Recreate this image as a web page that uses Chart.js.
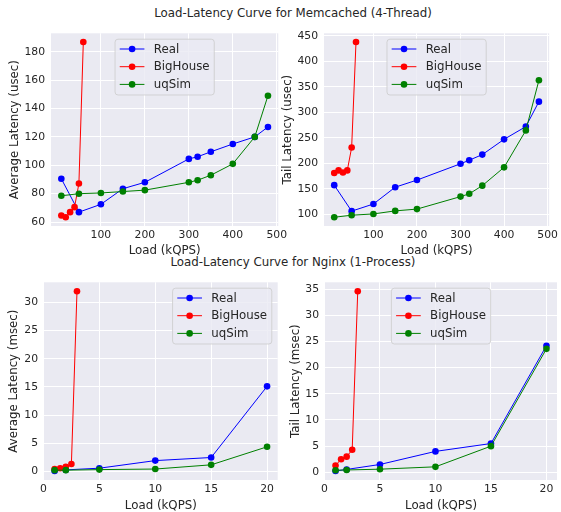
<!DOCTYPE html>
<html><head><meta charset="utf-8">
<script src="https://cdn.jsdelivr.net/npm/chart.js@4.4.0/dist/chart.umd.min.js"></script>
<style>
html,body{margin:0;padding:0;background:#fff;overflow:hidden;width:561px;height:512px;}
canvas{position:absolute;left:0;top:0;}
.sup{position:absolute;font-family:'DejaVu Sans';font-size:11.8px;color:#262626;line-height:14px;white-space:nowrap;text-align:center;width:400px;}
</style></head><body>
<div class="sup" style="left:93px;top:6px">Load-Latency Curve for Memcached (4-Thread)</div>
<div class="sup" style="left:93px;top:255px">Load-Latency Curve for Nginx (1-Process)</div>
<canvas id="c1" width="561" height="540"></canvas>
<canvas id="c2" width="561" height="540"></canvas>
<canvas id="c3" width="561" height="540"></canvas>
<canvas id="c4" width="561" height="540"></canvas>
<script>
// ---- data ----
const seriesNames = ['Real', 'BigHouse', 'uqSim'];
const memLoad = [10, 50, 100, 150, 200, 300, 320, 350, 400, 450, 480];
const memBigLoad = [10, 20, 30, 40, 50, 60];
const memRealAvg = [90.5, 67, 72.5, 83.5, 88, 104.5, 106, 109.5, 115, 120, 127];
const memBigAvg = [64.6, 63.4, 67, 70.5, 87.2, 186.8];
const memUqAvg = [78.5, 80, 80.5, 81.5, 82.5, 88, 89.5, 93, 101, 120, 149];
const memRealTail = [157, 106, 120, 153, 167, 199, 206, 217, 247, 272, 321];
const memBigTail = [181, 186, 182, 186, 231, 438];
const memUqTail = [94, 98, 100.5, 106.5, 110, 134.5, 140, 156, 192, 264.5, 363];

const nginxLoad = [1, 2, 5, 10, 15, 20];
const nginxBigLoad = [1, 1.5, 2, 2.5, 3];
const nginxRealAvg = [0.05, 0.25, 0.55, 1.9, 2.45, 15.1];
const nginxBigAvg = [0.4, 0.55, 0.8, 1.3, 32];
const nginxUqAvg = [0.2, 0.2, 0.3, 0.4, 1.15, 4.35];
const nginxRealTail = [0.25, 0.55, 1.5, 4.0, 5.5, 24.2];
const nginxBigTail = [1.3, 2.5, 3.0, 4.3, 34.6];
const nginxUqTail = [0.4, 0.45, 0.6, 1.05, 5.0, 23.6];

const memXTicks = [100, 200, 300, 400, 500];
const memAvgYTicks = [60, 80, 100, 120, 140, 160, 180];
const memTailYTicks = [100, 150, 200, 250, 300, 350, 400, 450];
const nginxXTicks = [0, 5, 10, 15, 20];
const nginxAvgYTicks = [0, 5, 10, 15, 20, 25, 30];
const nginxTailYTicks = [0, 5, 10, 15, 20, 25, 30, 35];

// ---- styling ----
const FAM = "'DejaVu Sans', sans-serif";
const TXT = '#262626';
const LABEL_FS = 11.8, TICK_FS = 10.8;
const LH = LABEL_FS * 1.2;
const COLORS = ['#0000ff', '#ff0000', '#008000'];
const CW = 561, CH = 540;

function autoRange(arrs) {
  const all = [].concat(...arrs);
  const mn = Math.min(...all), mx = Math.max(...all), r = mx - mn;
  return [mn - 0.05 * r, mx + 0.05 * r];
}

const bgPlugin = {
  id: 'bg',
  beforeDraw(chart) {
    const a = chart.chartArea, ctx = chart.ctx;
    ctx.save(); ctx.fillStyle = '#eaeaf2';
    ctx.fillRect(a.left, a.top, a.right - a.left, a.bottom - a.top);
    ctx.restore();
  }
};

const legendPlugin = {
  id: 'inlegend',
  afterDatasetsDraw(chart, args, opts) {
    const ctx = chart.ctx, a = chart.chartArea;
    const ds = chart.data.datasets;
    ctx.save();
    ctx.font = LABEL_FS + 'px ' + FAM;
    const tw = Math.max(...ds.map(d => ctx.measureText(d.label).width));
    const pad = 4.7, handle = 24.7, gap = 9.3, rowH = 17.7, edge = 5.9;
    const w = pad + handle + gap + tw + pad;
    const h = (ds.length - 1) * rowH + 2 * 10.2;
    let x;
    if (opts.loc === 'upper right') x = a.right - edge - w;
    else x = (a.left + a.right) / 2 - w / 2;
    const y = a.top + edge;
    ctx.beginPath();
    ctx.roundRect(x, y, w, h, 3);
    ctx.fillStyle = 'rgba(234,234,242,0.8)';
    ctx.fill();
    ctx.strokeStyle = 'rgba(204,204,204,0.8)';
    ctx.lineWidth = 1;
    ctx.stroke();
    ds.forEach((d, i) => {
      const cy = y + 9.8 + i * rowH;
      const lx = x + pad;
      ctx.strokeStyle = d.borderColor; ctx.lineWidth = 1;
      ctx.beginPath(); ctx.moveTo(lx, cy); ctx.lineTo(lx + handle, cy); ctx.stroke();
      ctx.fillStyle = d.borderColor;
      ctx.beginPath(); ctx.arc(lx + handle / 2, cy, 3.3, 0, Math.PI * 2); ctx.fill();
      ctx.fillStyle = TXT; ctx.textBaseline = 'middle'; ctx.textAlign = 'left';
      ctx.fillText(d.label, lx + handle + gap, cy + 0.5);
    });
    ctx.restore();
  }
};

function makeChart(id, c) {
  const padL = c.yTitleX - LH / 2;
  const yW = c.area.L - padL;
  const xBottom = c.xTitleY + LH / 2;
  const xH = xBottom - c.area.B;
  const xr = autoRange(c.series.map(s => s.x));
  const yr = autoRange(c.series.map(s => s.y));
  const datasets = c.series.map((s, i) => ({
    label: seriesNames[i],
    data: s.x.map((v, k) => ({ x: v, y: s.y[k] })),
    borderColor: COLORS[i], backgroundColor: COLORS[i],
    pointBackgroundColor: COLORS[i], pointBorderWidth: 0,
    pointRadius: 3.3, borderWidth: 1, showLine: true, tension: 0,
    order: 3 - i
  }));
  const tickFont = { family: FAM, size: TICK_FS };
  const labFont = { family: FAM, size: LABEL_FS };
  return new Chart(document.getElementById(id), {
    type: 'scatter',
    data: { datasets },
    options: {
      responsive: false, animation: false, events: [],
      layout: { autoPadding: false, padding: { left: padL, top: c.area.T, right: CW - c.area.R, bottom: CH - xBottom } },
      plugins: { legend: { display: false }, tooltip: { enabled: false }, inlegend: { loc: c.legendLoc } },
      scales: {
        x: {
          type: 'linear', min: xr[0], max: xr[1],
          afterBuildTicks: s => { s.ticks = c.xTicks.map(v => ({ value: v })); },
          afterFit: s => { s.height = xH; },
          ticks: { autoSkip: false, maxRotation: 0, padding: 3, color: TXT, font: tickFont },
          grid: { color: '#ffffff', lineWidth: 1, drawTicks: false },
          border: { display: false },
          title: { display: true, text: 'Load (kQPS)', padding: 0, color: TXT, font: labFont }
        },
        y: {
          type: 'linear', min: yr[0], max: yr[1],
          afterBuildTicks: s => { s.ticks = c.yTicks.map(v => ({ value: v })); },
          afterFit: s => { s.width = yW; },
          ticks: { autoSkip: false, padding: 6, color: TXT, font: tickFont },
          grid: { color: '#ffffff', lineWidth: 1, drawTicks: false },
          border: { display: false },
          title: { display: true, text: c.yTitle, padding: 0, color: TXT, font: labFont }
        }
      }
    },
    plugins: [bgPlugin, legendPlugin]
  });
}

makeChart('c1', {
  area: { L: 51, T: 33.3, R: 278.3, B: 226 }, yTitleX: 14.5, xTitleY: 251,
  yTitle: 'Average Latency (usec)', xTicks: memXTicks, yTicks: memAvgYTicks, legendLoc: 'upper center',
  series: [{ x: memLoad, y: memRealAvg }, { x: memBigLoad, y: memBigAvg }, { x: memLoad, y: memUqAvg }]
});
makeChart('c2', {
  area: { L: 324, T: 33.3, R: 551, B: 226 }, yTitleX: 287.7, xTitleY: 250.5,
  yTitle: 'Tail Latency (usec)', xTicks: memXTicks, yTicks: memTailYTicks, legendLoc: 'upper center',
  series: [{ x: memLoad, y: memRealTail }, { x: memBigLoad, y: memBigTail }, { x: memLoad, y: memUqTail }]
});
makeChart('c3', {
  area: { L: 44, T: 282.3, R: 277.7, B: 480 }, yTitleX: 14.3, xTitleY: 506.2,
  yTitle: 'Average Latency (msec)', xTicks: nginxXTicks, yTicks: nginxAvgYTicks, legendLoc: 'upper right',
  series: [{ x: nginxLoad, y: nginxRealAvg }, { x: nginxBigLoad, y: nginxBigAvg }, { x: nginxLoad, y: nginxUqAvg }]
});
makeChart('c4', {
  area: { L: 325, T: 282.3, R: 557, B: 480 }, yTitleX: 295.7, xTitleY: 506.2,
  yTitle: 'Tail Latency (msec)', xTicks: nginxXTicks, yTicks: nginxTailYTicks, legendLoc: 'upper center',
  series: [{ x: nginxLoad, y: nginxRealTail }, { x: nginxBigLoad, y: nginxBigTail }, { x: nginxLoad, y: nginxUqTail }]
});
</script>
</body></html>
